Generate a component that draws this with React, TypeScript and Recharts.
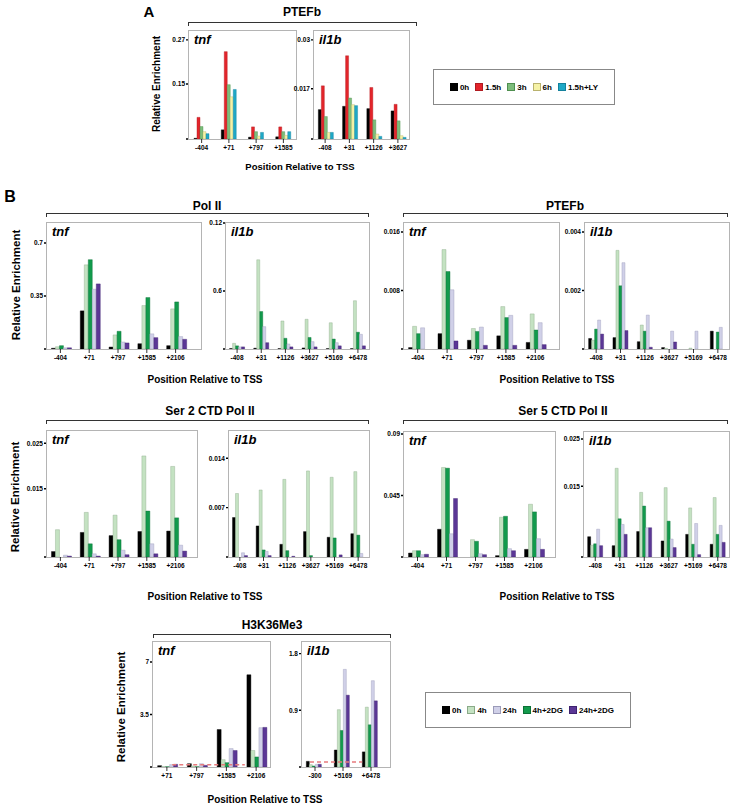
import React from 'react';
import { BarChart, Bar, XAxis, YAxis, ReferenceLine } from 'recharts';

const FONT = '"Liberation Sans", Arial, Helvetica, sans-serif';

// series (bar order inside each group)
const SERIES_A = ['0h', '1.5h', '3h', '6h', '1.5h+LY'];
const SERIES_B = ['0h', '4h', '4h+2DG', '24h', '24h+2DG'];
const LEGEND_B = ['0h', '4h', '24h', '4h+2DG', '24h+2DG'];

const FILL: Record<string, string> = {
  '0h': '#000000',
  '1.5h': '#e3252b',
  '3h': '#7dbd7b',
  '6h': '#f5f2a6',
  '1.5h+LY': '#1fa8c6',
  '4h': '#c4e2c2',
  '24h': '#d0d0e8',
  '4h+2DG': '#129a4c',
  '24h+2DG': '#5b3796'
};
const EDGE: Record<string, string> = {
  '0h': '#000000',
  '1.5h': '#b01b20',
  '3h': '#4f8f4f',
  '6h': '#b9b26e',
  '1.5h+LY': '#14819c',
  '4h': '#8aaa88',
  '24h': '#9a9ab8',
  '4h+2DG': '#0b7036',
  '24h+2DG': '#3e2270'
};

// categories
const TNF_A_POS = ['-404', '+71', '+797', '+1585'];
const IL1B_A_POS = ['-408', '+31', '+1126', '+3627'];
const TNF_POS = ['-404', '+71', '+797', '+1585', '+2106'];
const IL1B_POS = ['-408', '+31', '+1126', '+3627', '+5169', '+6478'];
const H3_TNF_POS = ['+71', '+797', '+1585', '+2106'];
const H3_IL1B_POS = ['-300', '+5169', '+6478'];

// values, one row per series (order of SERIES_A / SERIES_B)
const A_PTEFB_TNF = [
  [0.002, 0.025, 0.005, 0.006],
  [0.059, 0.238, 0.033, 0.033],
  [0.034, 0.148, 0.02, 0.02],
  [0.02, 0.115, 0.008, 0.01],
  [0.0145, 0.135, 0.018, 0.02]
];
const A_PTEFB_IL1B = [
  [0.0089, 0.0099, 0.0092, 0.0085],
  [0.0161, 0.0252, 0.0156, 0.0105],
  [0.0068, 0.0124, 0.0058, 0.0055],
  [0.002, 0.0104, 0.0015, 0.001],
  [0.002, 0.0101, 0.0008, 0.0005]
];
const POL2_TNF = [
  [0.005, 0.252, 0.013, 0.035, 0.022],
  [0.015, 0.556, 0.093, 0.287, 0.265],
  [0.022, 0.59, 0.117, 0.34, 0.311],
  [0.008, 0.395, 0.046, 0.1, 0.082],
  [0.008, 0.43, 0.04, 0.075, 0.064]
];
const POL2_IL1B = [
  [0.0005, 0.0008, 0.0004, 0.001, 0.0004, 0.0004],
  [0.0054, 0.085, 0.0267, 0.0283, 0.025, 0.046],
  [0.003, 0.0357, 0.0102, 0.011, 0.0095, 0.016],
  [0.002, 0.0213, 0.0048, 0.007, 0.006, 0.014],
  [0.002, 0.006, 0.002, 0.002, 0.003, 0.003]
];
const PTEFB_TNF = [
  [0.0002, 0.0021, 0.0012, 0.0018, 0.0009],
  [0.0031, 0.0136, 0.0028, 0.0058, 0.0048],
  [0.0021, 0.0106, 0.0024, 0.0043, 0.0026],
  [0.0029, 0.0081, 0.003, 0.0046, 0.0036],
  [0, 0.0011, 0.0005, 0.0005, 0.0006]
];
const PTEFB_IL1B = [
  [0.00036, 0.00039, 0.00025, 0.00005, 0, 0.00061],
  [0.0003, 0.00337, 0.00082, 0.00002, 0.00003, 0],
  [0.00068, 0.00216, 0.00061, 0, 0, 0.00058],
  [0.00099, 0.00295, 0.00116, 0.00061, 0.00061, 0.00074],
  [0.00051, 0.00063, 0.00006, 0.00024, 0, 0]
];
const SER2_TNF = [
  [0.0012, 0.0054, 0.0047, 0.0056, 0.0057],
  [0.006, 0.0098, 0.0092, 0.0222, 0.0199],
  [0, 0.0029, 0.0038, 0.0101, 0.0086],
  [0.0004, 0.0007, 0.0015, 0.0029, 0.0026],
  [0.0002, 0.0002, 0.0005, 0.0007, 0.0013]
];
const SER2_IL1B = [
  [0.0056, 0.0044, 0.0018, 0.0036, 0.0028, 0.0033],
  [0.009, 0.0095, 0.011, 0.0122, 0.0113, 0.0121],
  [0, 0.001, 0.0009, 0.0002, 0.0027, 0.0031],
  [0.0006, 0.0008, 0, 0, 0, 0.0005],
  [0.0002, 0.0002, 0.0001, 0, 0.0003, 0]
];
const SER5_TNF = [
  [0.0029, 0.0203, 0, 0.001, 0.0056],
  [0.0046, 0.0655, 0.0127, 0.0291, 0.0386],
  [0.0046, 0.065, 0.0115, 0.0298, 0.033],
  [0.0017, 0.017, 0.0024, 0.0061, 0.0134],
  [0.002, 0.0428, 0.0017, 0.0046, 0.0056]
];
const SER5_IL1B = [
  [0.0043, 0.0024, 0.0054, 0.0034, 0.0048, 0.0027],
  [0.0025, 0.0188, 0.0137, 0.0147, 0.0104, 0.0126],
  [0.0028, 0.0081, 0.0108, 0.0076, 0.0027, 0.0048],
  [0.0059, 0.0069, 0.0062, 0.0038, 0.0071, 0.0067],
  [0.0024, 0.0048, 0.0062, 0.002, 0.0005, 0.0031]
];
const H3_TNF = [
  [0.09, 0.22, 2.5, 6.15],
  [0.03, 0.07, 0.49, 1.1],
  [0.02, 0.02, 0.29, 0.67],
  [0.16, 0.22, 1.23, 2.62],
  [0.18, 0.11, 1.1, 2.64]
];
const H3_IL1B = [
  [0.09, 0.27, 0.24],
  [0.037, 0.91, 0.95],
  [0.016, 0.58, 0.67],
  [0.043, 1.55, 1.37],
  [0.043, 1.14, 1.05]
];

// y ticks and their printed labels
const TICKS_A_TNF = [0, 0.15, 0.27];
const LABELS_A_TNF = ['', '0.15', '0.27'];
const TICKS_A_IL1B = [0, 0.0152, 0.03];
const LABELS_A_IL1B = ['', '0.017', '0.03'];
const TICKS_POL2_TNF = [0, 0.35, 0.7];
const LABELS_POL2_TNF = ['', '0.35', '0.7'];
const TICKS_POL2_IL1B = [0, 0.0552, 0.12];
const LABELS_POL2_IL1B = ['', '0.6', '0.12'];
const TICKS_PTEFB_TNF = [0, 0.008, 0.016];
const LABELS_PTEFB_TNF = ['', '0.008', '0.016'];
const TICKS_PTEFB_IL1B = [0, 0.002, 0.004];
const LABELS_PTEFB_IL1B = ['', '0.002', '0.004'];
const TICKS_SER2_TNF = [0, 0.015, 0.025];
const LABELS_SER2_TNF = ['', '0.015', '0.025'];
const TICKS_SER2_IL1B = [0, 0.007, 0.014];
const LABELS_SER2_IL1B = ['', '0.007', '0.014'];
const TICKS_SER5_TNF = [0, 0.045, 0.09];
const LABELS_SER5_TNF = ['', '0.045', '0.09'];
const TICKS_SER5_IL1B = [0, 0.015, 0.025];
const LABELS_SER5_IL1B = ['', '0.015', '0.025'];
const TICKS_H3_TNF = [0, 3.5, 7];
const LABELS_H3_TNF = ['', '3.5', '7'];
const TICKS_H3_IL1B = [0, 0.9, 1.8];
const LABELS_H3_IL1B = ['', '0.9', '1.8'];

const Y_W = 30;
const X_H = 22;
const TOP_PAD = 8; // room above the frame so a top tick label is not clipped

type PanelProps = {
  box: [number, number, number, number];
  pos: string[];
  values: number[][];
  series: string[];
  yMax: number;
  ticks: number[];
  tickLabels: string[];
  gene: string;
  padRight?: number;
  gap?: string;
  dash?: { y: number; from: number; to: number };
};

function Panel ({ box, pos, values, series, yMax, ticks, tickLabels, gene, padRight = 0, gap = '19%', dash }: PanelProps) {
  const [l, t, w, h] = box;
  const data = pos.map((p, i) => {
    const row: Record<string, string | number> = { pos: p };
    series.forEach((s, k) => { row[s] = values[k][i]; });
    return row;
  });
  const tickStyle = { fontSize: 6.5, fontWeight: 700, fill: '#000', fontFamily: FONT };

  return (
    <>
      <div
        style={{
          position : 'absolute',
          left     : l,
          top      : t,
          width    : w,
          height   : h + 1,
          border   : '1px solid #b4b4b4',
          boxSizing: 'border-box'
        }}
      />
      <div style={{ position: 'absolute', left: l - Y_W, top: t - TOP_PAD }}>
        <BarChart
          width={w + Y_W}
          height={h + X_H + TOP_PAD}
          data={data}
          margin={{ top: TOP_PAD, right: 0, bottom: 0, left: 0 }}
          barGap={0}
          barCategoryGap={gap}
        >
          <XAxis
            dataKey="pos"
            interval={0}
            axisLine={false}
            tickSize={4}
            tickMargin={2}
            height={X_H}
            padding={{ left: 0, right: padRight }}
            tickLine={{ stroke: '#000', strokeWidth: 0.8 }}
            tick={tickStyle}
          />
          <YAxis
            domain={[0, yMax]}
            allowDataOverflow
            ticks={ticks}
            interval={0}
            tickFormatter={(v: number) => tickLabels[ticks.indexOf(v)] ?? ''}
            width={Y_W}
            axisLine={false}
            tickSize={2}
            tickMargin={1}
            tickLine={{ stroke: '#000', strokeWidth: 1.4 }}
            tick={tickStyle}
          />
          {series.map(s => (
            <Bar
              key={s}
              dataKey={s}
              fill={FILL[s]}
              stroke={EDGE[s]}
              strokeWidth={0.4}
              isAnimationActive={false}
            />
          ))}
          {dash && (
            <ReferenceLine
              y={dash.y}
              shape={(p: any) => {
                const a = Math.min(p.x1, p.x2);
                const b = Math.max(p.x1, p.x2);
                return (
                  <line
                    x1={a + (b - a) * dash.from}
                    x2={a + (b - a) * dash.to}
                    y1={p.y1}
                    y2={p.y2}
                    stroke="#e77b7d"
                    strokeWidth={1.5}
                    strokeDasharray="4 3"
                  />
                );
              }}
            />
          )}
        </BarChart>
      </div>
      <div
        style={{
          position  : 'absolute',
          left      : l + 6,
          top       : t + 3,
          fontSize  : 13,
          fontWeight: 700,
          fontStyle : 'italic',
          lineHeight: '14px'
        }}
      >
        {gene}
      </div>
    </>
  );
}

function Label ({ x, y, size, children, rotate = false }: { x: number; y: number; size: number; children: React.ReactNode; rotate?: boolean }) {
  return (
    <div
      style={{
        position  : 'absolute',
        left      : x,
        top       : y,
        fontSize  : size,
        fontWeight: 700,
        whiteSpace: 'nowrap',
        lineHeight: 1,
        transform : `translate(-50%, -50%)${rotate ? ' rotate(-90deg)' : ''}`
      }}
    >
      {children}
    </div>
  );
}

function Bracket ({ x1, x2, y }: { x1: number; x2: number; y: number }) {
  return (
    <div
      style={{
        position   : 'absolute',
        left       : x1,
        top        : y,
        width      : x2 - x1,
        height     : 4,
        borderTop  : '1.2px solid #333',
        borderLeft : '1.2px solid #333',
        borderRight: '1.2px solid #333',
        boxSizing  : 'border-box'
      }}
    />
  );
}

function LegendBox ({ left, top, width, height, items }: { left: number; top: number; width: number; height: number; items: string[] }) {
  return (
    <div
      style={{
        position      : 'absolute',
        left,
        top,
        width,
        height,
        border        : '1.2px solid #888',
        boxSizing     : 'border-box',
        display       : 'flex',
        alignItems    : 'center',
        justifyContent: 'center',
        gap           : 6,
        fontSize      : 8,
        fontWeight    : 700
      }}
    >
      {items.map(s => (
        <div key={s} style={{ display: 'flex', alignItems: 'center', gap: 2 }}>
          <span
            style={{
              display   : 'inline-block',
              width     : 6,
              height    : 6,
              background: FILL[s],
              border    : `1px solid ${s === '0h' ? '#000' : EDGE[s]}`
            }}
          />
          <span>{s}</span>
        </div>
      ))}
    </div>
  );
}

export default function App () {
  return (
    <div
      style={{
        position  : 'absolute',
        left      : 0,
        top       : 0,
        width     : 732,
        height    : 807,
        overflow  : 'hidden',
        background: '#fff',
        fontFamily: FONT,
        color     : '#000'
      }}
    >
      {/* A */}
      <Label x={149} y={11} size={15}>A</Label>
      <Label x={302} y={12} size={12}>PTEFb</Label>
      <Bracket x1={188} x2={417} y={22} />
      <Label x={157} y={84} size={10} rotate>Relative Enrichment</Label>
      <Panel box={[188, 30, 109, 109]} pos={TNF_A_POS} values={A_PTEFB_TNF} series={SERIES_A} yMax={0.297} ticks={TICKS_A_TNF} tickLabels={LABELS_A_TNF} gene="tnf" gap="22%" />
      <Panel box={[313, 30, 97, 109]} pos={IL1B_A_POS} values={A_PTEFB_IL1B} series={SERIES_A} yMax={0.033} ticks={TICKS_A_IL1B} tickLabels={LABELS_A_IL1B} gene="il1b" gap="22%" />
      <Label x={300} y={167} size={9.5}>Position Relative to TSS</Label>
      <LegendBox left={433} top={69} width={182} height={36} items={SERIES_A} />

      {/* B, row 1 */}
      <Label x={10} y={197} size={16}>B</Label>
      <Label x={207} y={206} size={12}>Pol II</Label>
      <Bracket x1={46} x2={369} y={213} />
      <Label x={565} y={206} size={12}>PTEFb</Label>
      <Bracket x1={403} x2={728} y={213} />
      <Label x={17} y={285} size={11.5} rotate>Relative Enrichment</Label>
      <Panel box={[46, 222, 156, 127]} pos={TNF_POS} values={POL2_TNF} series={SERIES_B} yMax={0.839} ticks={TICKS_POL2_TNF} tickLabels={LABELS_POL2_TNF} gene="tnf" padRight={12} />
      <Panel box={[225, 222, 145, 127]} pos={IL1B_POS} values={POL2_IL1B} series={SERIES_B} yMax={0.121} ticks={TICKS_POL2_IL1B} tickLabels={LABELS_POL2_IL1B} gene="il1b" />
      <Panel box={[403, 222, 157, 127]} pos={TNF_POS} values={PTEFB_TNF} series={SERIES_B} yMax={0.01737} ticks={TICKS_PTEFB_TNF} tickLabels={LABELS_PTEFB_TNF} gene="tnf" padRight={10} />
      <Panel box={[584, 222, 146, 127]} pos={IL1B_POS} values={PTEFB_IL1B} series={SERIES_B} yMax={0.00434} ticks={TICKS_PTEFB_IL1B} tickLabels={LABELS_PTEFB_IL1B} gene="il1b" />
      <Label x={205} y={380} size={10}>Position Relative to TSS</Label>
      <Label x={557} y={380} size={10}>Position Relative to TSS</Label>

      {/* B, row 2 */}
      <Label x={210} y={411} size={12}>Ser 2 CTD Pol II</Label>
      <Bracket x1={46} x2={369} y={420} />
      <Label x={563} y={411} size={12}>Ser 5 CTD Pol II</Label>
      <Bracket x1={403} x2={728} y={420} />
      <Label x={16} y={497} size={11.5} rotate>Relative Enrichment</Label>
      <Panel box={[46, 430, 152, 127]} pos={TNF_POS} values={SER2_TNF} series={SERIES_B} yMax={0.0279} ticks={TICKS_SER2_TNF} tickLabels={LABELS_SER2_TNF} gene="tnf" padRight={8} />
      <Panel box={[228, 430, 142, 127]} pos={IL1B_POS} values={SER2_IL1B} series={SERIES_B} yMax={0.018} ticks={TICKS_SER2_IL1B} tickLabels={LABELS_SER2_IL1B} gene="il1b" />
      <Panel box={[403, 431, 153, 126]} pos={TNF_POS} values={SER5_TNF} series={SERIES_B} yMax={0.0922} ticks={TICKS_SER5_TNF} tickLabels={LABELS_SER5_TNF} gene="tnf" padRight={8} />
      <Panel box={[583, 431, 147, 126]} pos={IL1B_POS} values={SER5_IL1B} series={SERIES_B} yMax={0.0267} ticks={TICKS_SER5_IL1B} tickLabels={LABELS_SER5_IL1B} gene="il1b" />
      <Label x={205} y={597} size={10}>Position Relative to TSS</Label>
      <Label x={557} y={597} size={10}>Position Relative to TSS</Label>

      {/* B, row 3 */}
      <Label x={272} y={625} size={12}>H3K36Me3</Label>
      <Bracket x1={153} x2={391} y={634} />
      <Label x={122} y={707} size={11.5} rotate>Relative Enrichment</Label>
      <Panel box={[152, 641, 119, 126]} pos={H3_TNF_POS} values={H3_TNF} series={SERIES_B} yMax={8.4} ticks={TICKS_H3_TNF} tickLabels={LABELS_H3_TNF} gene="tnf" dash={{ y: 0.15, from: 0.17, to: 0.78 }} />
      <Panel box={[301, 641, 90, 126]} pos={H3_IL1B_POS} values={H3_IL1B} series={SERIES_B} yMax={2.0} ticks={TICKS_H3_IL1B} tickLabels={LABELS_H3_IL1B} gene="il1b" padRight={6} dash={{ y: 0.08, from: 0.1, to: 0.68 }} />
      <Label x={265} y={800} size={10}>Position Relative to TSS</Label>
      <LegendBox left={425} top={692} width={206} height={36} items={LEGEND_B} />
    </div>
  );
}
